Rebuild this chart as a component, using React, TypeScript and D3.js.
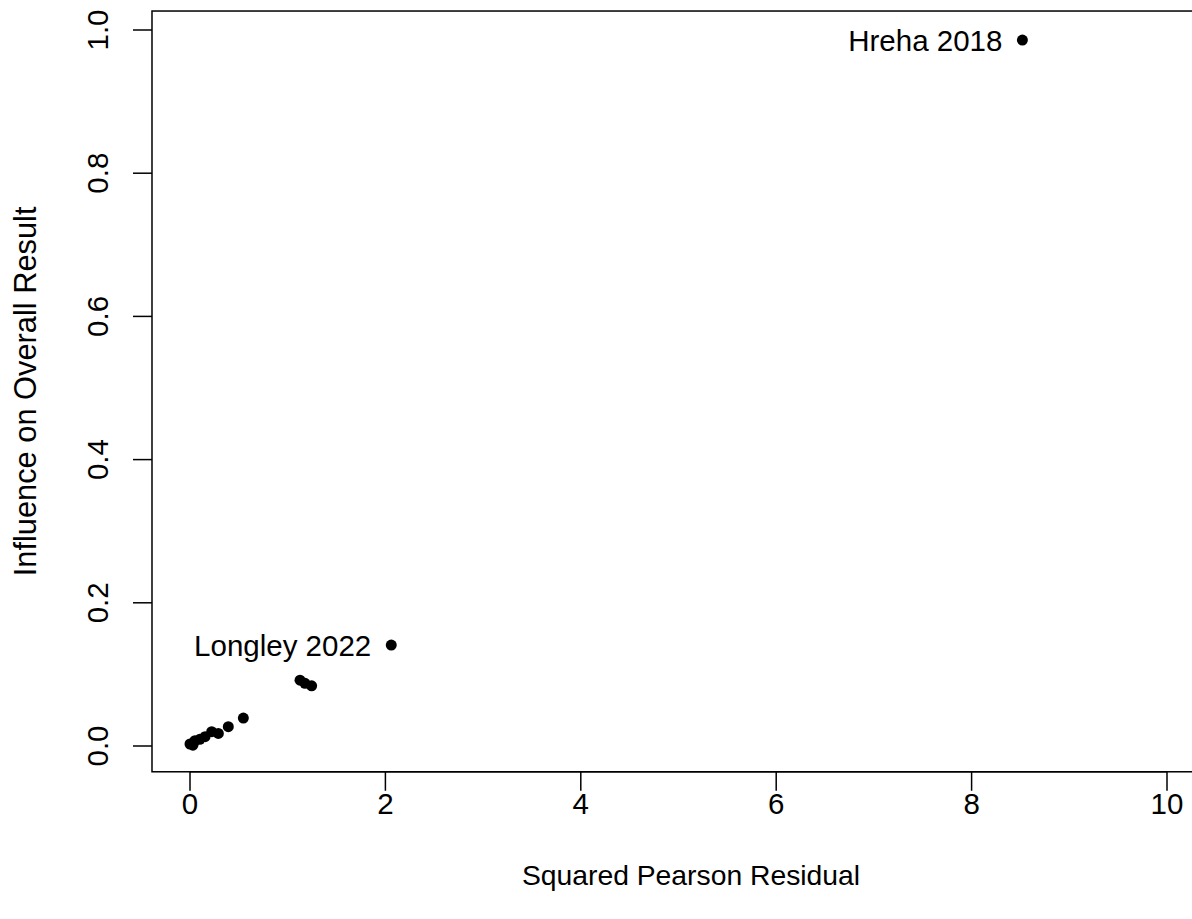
import React from "react";
import * as d3 from "d3";

// squared pearson residual vs influence, one entry per study
const residuals = [0.0, 0.03, 0.05, 0.1, 0.154, 0.222, 0.29, 0.392, 0.546, 1.126, 1.177, 1.245, 2.06, 8.52];
const influence = [0.0028, 0.0012, 0.0074, 0.0094, 0.013, 0.02, 0.0176, 0.027, 0.039, 0.092, 0.0875, 0.084, 0.141, 0.986];
const labels = ["", "", "", "", "", "", "", "", "", "", "", "", "Longley 2022", "Hreha 2018"];

const xTicks = [0, 2, 4, 6, 8, 10];
const yTicks = [0, 0.2, 0.4, 0.6, 0.8, 1.0];

const W = 1192, H = 919;
const font = "'Liberation Sans', Arial, sans-serif";
const fs = 29.5;

export default function App() {
  const x = d3.scaleLinear().domain([0, 10]).range([190, 1167]);
  const y = d3.scaleLinear().domain([0, 1]).range([746, 30]);

  // plot box (R usr region), right edge runs off the image
  const left = x(-0.389), right = x(10.6);
  const top = y(1.0265), bottom = y(-0.036);

  const pts = residuals.map((r, i) => ({ r, inf: influence[i], lab: labels[i] }));

  return (
    <svg width={W} height={H} style={{ position: "absolute", left: 0, top: 0, background: "#fff" }}
      fontFamily={font}>
      <rect x={0} y={0} width={W} height={H} fill="#fff" />
      <rect x={left} y={top} width={right - left} height={bottom - top} fill="none" stroke="#000" strokeWidth={1.5} />

      {/* x axis */}
      <line x1={x(0)} x2={x(10)} y1={bottom} y2={bottom} stroke="#000" strokeWidth={1.5} />
      {xTicks.map(t => (
        <g key={"x" + t}>
          <line x1={x(t)} x2={x(t)} y1={bottom} y2={bottom + 19} stroke="#000" strokeWidth={1.5} />
          <text x={x(t)} y={bottom + 42} fontSize={fs} textAnchor="middle">{t}</text>
        </g>
      ))}
      <text x={691} y={885} fontSize={28.3} textAnchor="middle">Squared Pearson Residual</text>

      {/* y axis */}
      {yTicks.map(t => (
        <g key={"y" + t}>
          <line x1={left - 19} x2={left} y1={y(t)} y2={y(t)} stroke="#000" strokeWidth={1.5} />
          <text transform={`translate(${left - 44},${y(t)}) rotate(-90)`} fontSize={fs} textAnchor="middle">
            {d3.format(".1f")(t)}
          </text>
        </g>
      ))}
      <text transform={`translate(36,${(top + bottom) / 2}) rotate(-90)`} fontSize={30.8} textAnchor="middle">
        Influence on Overall Result
      </text>

      {/* points */}
      {pts.map((p, i) => (
        <circle key={i} cx={x(p.r)} cy={y(p.inf)} r={5.5} fill="#000" />
      ))}
      {pts.filter(p => p.lab).map(p => (
        <text key={p.lab} x={x(p.r) - 20} y={y(p.inf) + 10.5} fontSize={fs} textAnchor="end">{p.lab}</text>
      ))}
    </svg>
  );
}
